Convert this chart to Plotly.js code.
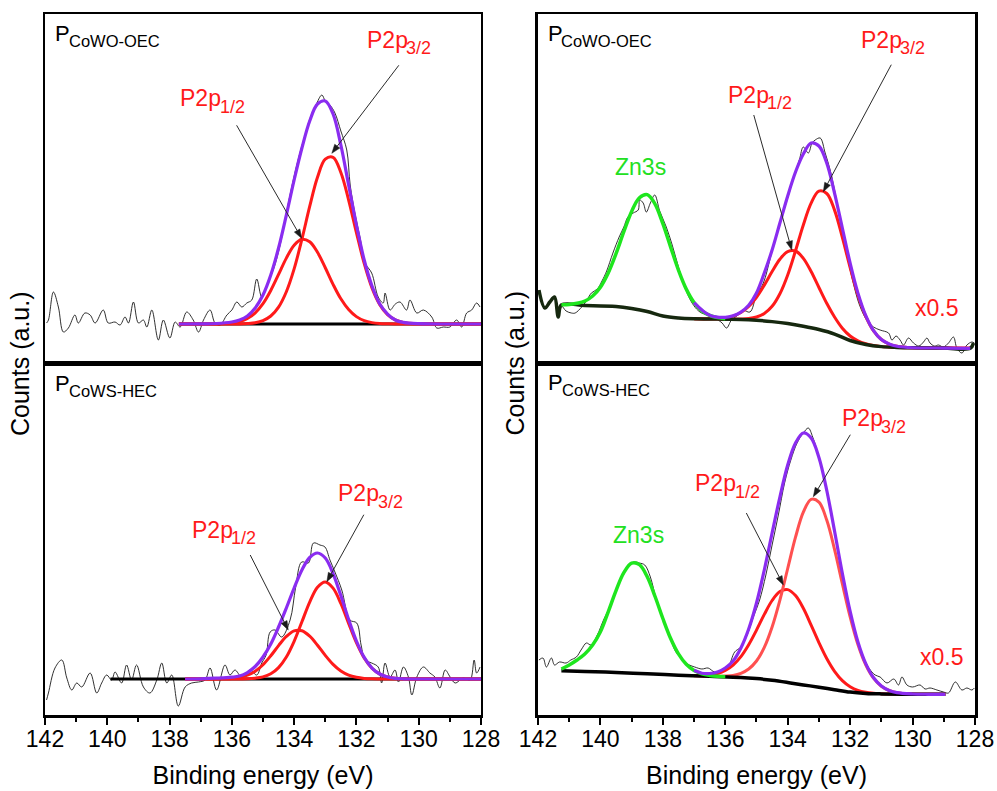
<!DOCTYPE html>
<html><head><meta charset="utf-8">
<script src="https://cdn.plot.ly/plotly-3.0.1.min.js"></script>
<style>body{margin:0;background:#fff}</style>
</head><body><div id="chart" style="width:997px;height:791px"></div>
<script>
// ---------- Left-top: P CoWO-OEC (P 2p only) ----------
const LT_rawE = [141.95,141.89,141.73,141.57,141.41,141.25,141.04,140.93,140.72,140.55,140.39,140.13,139.97,139.75,139.59,139.43,139.32,139.16,139.0,138.84,138.73,138.57,138.36,138.2,137.99,137.82,137.66,137.45,137.24,137.07,136.91,136.70,136.54,136.38,136.16,136.0,135.84,135.68,135.52,135.36,135.2,135.04,134.85,134.65,134.45,134.25,134.05,133.85,133.65,133.45,133.3,133.11,133.0,132.85,132.69,132.5,132.31,132.2,132.05,131.88,131.72,131.51,131.3,131.14,131.08,130.92,130.75,130.6,130.39,130.28,130.06,129.85,129.58,129.42,129.21,129.0,128.78,128.62,128.46,128.30,128.14,128.03];
const LT_raw = [40,43,71,56,31,35,48,40,50,48,40,53,40,41,38,46,40,61,40,43,36,53,23,43,25,41,36,51,43,31,43,53,40,38,48,53,61,56,60,63,84,66,80,95,118,150,180,206,228,248,258,268,262,258,250,232,213,178,150,125,100,90,66,60,70,53,59,61,53,63,50,53,46,35,36,36,43,36,50,53,60,56];
const LT_fitE = [137.7,137.0,136.5,136.0,135.75,135.5,135.25,135.0,134.75,134.5,134.25,134.0,133.75,133.5,133.25,133.0,132.75,132.5,132.25,132.0,131.75,131.5,131.25,131.0,130.75,130.5,130.0,129.0,128.0];
const LT_p32 = [39,39,39,39,39.1,39.5,40.3,42.4,47.0,55.9,71.3,94.1,123.8,156.6,185.8,203.8,205.7,190.5,163.0,130.4,99.6,75.1,58.4,48.4,43.1,40.6,39.2,39,39];
const LT_p12 = [39,39,39,40.0,41.5,44.5,50.2,59.4,72.6,88.6,104.9,117.8,123.8,121.2,110.7,95.3,78.7,64.2,53.5,46.4,42.4,40.4,39.5,39.2,39,39,39,39,39];
const LT_env = [39,39.2,39.5,41,43,47,55,68,88,115,148,183,215,242,259,262,249,218,178,138,103,77,59,49,43,40.6,39.3,39,39];
const LT_baseE = [137.7,128.0];
const LT_base = [39,39];

// ---------- Left-bottom: P CoWS-HEC ----------
const LB_rawE = [141.95,141.89,141.68,141.46,141.30,141.14,140.98,140.82,140.55,140.34,140.18,140.02,139.86,139.75,139.54,139.38,139.22,139.06,138.84,138.63,138.41,138.25,138.09,137.93,137.72,137.50,137.29,137.07,136.86,136.70,136.49,136.22,136.06,135.90,135.68,135.42,135.20,135.04,134.90,134.77,134.61,134.40,134.13,133.95,133.76,133.54,133.38,133.17,133.01,132.85,132.69,132.47,132.21,131.99,131.85,131.72,131.51,131.30,131.19,131.08,130.92,130.76,130.65,130.49,130.33,130.22,130.06,129.85,129.64,129.48,129.32,129.15,128.99,128.83,128.57,128.35,128.22,128.14,128.03];
const LB_raw = [15,22,47,55,37,25,32,28,42,22,32,40,35,43,32,50,35,50,28,22,35,52,32,40,9,28,32,33,35,47,25,50,40,45,38,45,40,52,60,83,85,78,95,128,153,152,172,170,168,155,143,125,95,92,70,55,52,48,32,52,38,45,33,48,38,20,38,48,42,38,27,45,38,32,37,35,55,42,48];
const LB_fitE = [137.5,137.0,136.5,136.0,135.75,135.5,135.25,135.0,134.75,134.5,134.25,134.0,133.75,133.5,133.25,133.0,132.75,132.5,132.25,132.0,131.75,131.5,131.25,131.0,130.75,130.5,130.0,129.0,128.0];
const LB_p32 = [36,36,36,36,36.1,36.2,36.8,38.1,41.2,47.4,58.0,73.7,93.2,112.9,127.8,133.0,126.9,111.5,91.6,72.3,57.0,46.8,40.9,38.0,36.7,36.2,36,36,36];
const LB_p12 = [36,36,36.1,36.6,37.6,39.8,43.8,50.3,59.2,69.4,78.6,84.2,84.3,78.9,69.8,59.6,50.6,44.0,39.9,37.7,36.6,36.2,36.1,36,36,36,36,36,36];
const LB_env = [36,36.2,36.8,37.8,39,42.5,48.5,58,71,88,107,127,145,157.5,162,157,141.5,119.5,95.5,74.0,57.6,47.0,41.0,38.0,36.7,36.2,36,36,36];
const LB_baseE = [139.9,128.0];
const LB_base = [36,36];

// ---------- Right-top: P CoWO-OEC with Zn3s (x0.5) ----------
const RT_rawE = [141.97,141.78,141.62,141.47,141.35,141.25,141.1,140.93,140.81,140.6,140.45,140.29,140.1,139.95,139.8,139.6,139.4,139.25,139.12,138.95,138.79,138.74,138.63,138.53,138.4,138.26,138.1,137.89,137.7,137.5,137.3,137.1,136.92,136.76,136.55,136.40,136.23,136.1,135.96,135.80,135.59,135.45,135.21,135.0,134.78,134.55,134.3,134.05,133.8,133.62,133.50,133.34,133.22,133.12,132.96,132.80,132.64,132.48,132.3,132.1,131.9,131.7,131.47,131.25,131.04,130.77,130.66,130.53,130.40,130.29,130.13,129.97,129.8,129.65,129.54,129.44,129.3,129.17,129.01,128.85,128.69,128.58,128.42,128.26,128.10,128.02];
const RT_raw = [73,55,61,66,46,57,52,50,50,56,62,70,74,82,92,110,126,136,146,150,153,163,160,151,160,168,152,136,118,96,76,62,54,50,48,46,43,40,35,43,48,53,51,68,80,106,135,160,186,204,216,210,220,223,225,210,193,170,140,108,80,58,43,36,33,30,23,27,23,18,25,20,17,21,25,20,17,18,16,20,26,15,10,18,21,20];
const RT_baseE = [141.97,141.78,141.62,141.47,141.35,141.25,140.5,139.5,139.0,138.5,138.0,137.5,137.0,136.5,136.0,135.5,135.0,134.5,134.0,133.5,133.0,132.5,132.0,131.5,131.0,130.5,130.0,129.0,128.15,128.05];
const RT_base = [73,55,61,66,46,58,57.5,56.5,54.5,51.5,47,45,44.2,44,43.8,43.6,42.8,41.4,39.5,36.8,33.5,29,22.5,18.5,16.4,15.6,15.2,15,14.7,20];
const RT_fitE = [137.0,136.5,136.0,135.75,135.5,135.25,135.0,134.75,134.5,134.25,134.0,133.75,133.5,133.25,133.0,132.75,132.5,132.25,132.0,131.75,131.5,131.25,131.0,130.75,130.5,130.0,129.0,128.15];
const RT_p32 = [44.2,44.0,43.8,43.8,44.0,44.5,46.0,49.5,56.7,69.3,88.1,112.2,138.0,159.9,171.8,169.5,152.9,125.7,95.4,67.9,46.6,32.1,23.5,19.0,16.8,15.3,15,14.7];
const RT_p12 = [44.2,44.2,45.1,46.9,50.5,56.5,65.7,77.9,91.5,103.8,111.5,112.0,104.7,91.5,75.5,59.7,46.0,34.8,27.0,22.2,19.3,17.5,16.4,15.9,15.6,15.2,15,14.7];
const RT_env = [60.5,47.8,45.6,47.2,50.9,57.7,70,90,113,140,167,191,209,220,217,200,170,135,99.9,69.9,47.4,32.4,23.5,19.0,16.8,15.3,15,14.7];
const RT_znE = [141.25,141.0,140.5,140.25,140.0,139.75,139.5,139.25,139.0,138.75,138.5,138.25,138.0,137.75,137.5,137.25,137.0,136.75,136.5,136.25,136.0];
const RT_zn = [58.2,58.5,61.9,67.0,75.9,90.1,109.4,131.3,151.6,165.3,168.4,159.0,139.3,115.9,92.9,73.9,60.5,52.2,47.6,45.4,44.3];

// ---------- Right-bottom: P CoWS-HEC with Zn3s (x0.5) ----------
const RB_rawE = [141.97,141.84,141.73,141.57,141.47,141.31,141.1,140.95,140.77,140.6,140.45,140.3,140.1,139.9,139.7,139.5,139.3,139.1,138.9,138.75,138.58,138.4,138.2,138.0,137.8,137.6,137.45,137.3,137.15,136.98,136.75,136.55,136.34,136.1,135.91,135.7,135.5,135.3,135.1,134.9,134.7,134.5,134.3,134.1,133.9,133.7,133.5,133.34,133.2,133.0,132.8,132.6,132.4,132.2,132.0,131.8,131.6,131.4,131.2,131.04,130.82,130.6,130.45,130.34,130.18,130.0,129.76,129.6,129.44,129.22,129.01,128.85,128.63,128.42,128.26,128.10,128.02];
const RB_raw = [55,57,48,57,50,53,52,55,58,66,72,70,80,95,108,124,140,150,153,152,150,138,114,96,80,64,58,53,50,48,46,47,43,45,48,63,68,80,98,115,140,170,200,232,255,272,282,287,278,258,230,200,165,132,104,78,60,47,40,38,32,36,30,38,30,28,30,26,27,25,23,22,33,25,27,25,27];
const RB_baseE = [141.25,140.5,139.5,138.5,137.5,136.5,135.5,135.0,134.5,134.0,133.5,133.0,132.5,132.0,131.5,131.0,130.0,128.95];
const RB_base = [44.3,43.6,42.5,41.2,39.8,38.7,37.6,36.4,34.7,32.5,30.1,27.8,25.3,22.9,21.6,21.1,20.8,20.7];
const RB_fitE = [137.0,136.75,136.5,136.25,136.0,135.75,135.5,135.25,135.0,134.75,134.5,134.25,134.0,133.75,133.5,133.25,133.0,132.75,132.5,132.25,132.0,131.75,131.5,131.25,131.0,130.75,130.5,130.0,129.5,128.95];
const RB_p32 = [39.2,38.9,38.8,38.6,38.9,39.6,41.7,46.0,54.0,67.6,88.0,114.9,146.5,177.8,202.8,215.6,212.9,194.9,165.6,131.3,98.2,70.5,50.2,36.8,28.8,24.5,22.3,21.0,20.7,20.7];
const RB_p12 = [39.4,39.5,40.1,41.5,44.5,49.9,58.4,70.3,84.9,100.6,114.5,123.5,125.4,119.4,106.7,89.9,72.4,56.5,43.7,34.4,28.3,24.6,22.7,21.7,21.3,21.0,20.9,20.8,20.7,20.7];
const RB_env = [44.7,41.8,41.5,43,47,54,67,86,112,145,182,218,250,272,282,277,257.5,224.8,184.0,141.7,103.6,73.0,51.3,37.2,29.0,24.5,22.3,21.0,20.7,20.7];
const RB_znE = [141.25,141.0,140.75,140.5,140.25,140.0,139.75,139.5,139.25,139.0,138.75,138.5,138.25,138.0,137.75,137.5,137.25,137.0,136.75,136.5,136.25,136.0];
const RB_zn = [46,50,55,61,70,83.2,103.2,124.4,142.3,151.9,150.4,138.2,118.5,96.5,76.5,61.1,50.7,44.5,41.2,39.6,38.7,38.3];

// ---------- tick labels ----------
const xTickVals = [142,140,138,136,134,132,130,128];
const xTickText = ['142','140','138','136','134','132','130','128'];

const FONT = 'Liberation Sans, Arial, Helvetica, sans-serif';
const RED = '#ff1a1a', PURPLE = '#8a2cf0', GREEN = '#1ee61e', GREEN_TXT = '#22e022', BASE_DARK = '#16280f';

function ln(x, y, xa, ya, color, width) {
  return {x: x, y: y, xaxis: xa, yaxis: ya, type: 'scatter', mode: 'lines',
    line: {color: color, width: width, shape: 'spline', smoothing: 1},
    hoverinfo: 'skip', showlegend: false};
}

const traces = [
  ln(LB_rawE, LB_raw, 'x', 'y', '#1a1a1a', 0.9),
  ln(LB_baseE, LB_base, 'x', 'y', 'black', 3),
  ln(LB_fitE, LB_p12, 'x', 'y', RED, 3),
  ln(LB_fitE, LB_p32, 'x', 'y', RED, 3),
  ln(LB_fitE, LB_env, 'x', 'y', PURPLE, 3.2),
  ln(LT_rawE, LT_raw, 'x2', 'y2', '#1a1a1a', 0.9),
  ln(LT_baseE, LT_base, 'x2', 'y2', 'black', 3),
  ln(LT_fitE, LT_p12, 'x2', 'y2', RED, 3),
  ln(LT_fitE, LT_p32, 'x2', 'y2', RED, 3),
  ln(LT_fitE, LT_env, 'x2', 'y2', PURPLE, 3.2),
  ln(RB_rawE, RB_raw, 'x3', 'y3', '#1a1a1a', 0.9),
  ln(RB_fitE, RB_p12, 'x3', 'y3', RED, 3),
  ln(RB_fitE, RB_p32, 'x3', 'y3', '#ff5050', 3),
  ln(RB_baseE, RB_base, 'x3', 'y3', 'black', 3.5),
  ln(RB_znE, RB_zn, 'x3', 'y3', GREEN, 3.5),
  ln(RB_fitE, RB_env, 'x3', 'y3', PURPLE, 3.2),
  ln(RT_rawE, RT_raw, 'x4', 'y4', '#1a1a1a', 0.9),
  ln(RT_fitE, RT_p12, 'x4', 'y4', RED, 3),
  ln(RT_fitE, RT_p32, 'x4', 'y4', RED, 3),
  ln(RT_baseE, RT_base, 'x4', 'y4', BASE_DARK, 3.5),
  ln(RT_znE, RT_zn, 'x4', 'y4', GREEN, 3.5),
  ln(RT_fitE, RT_env, 'x4', 'y4', PURPLE, 3.2)
];

const LEFT_DOM = [0, 0.4688], RIGHT_DOM = [0.5301, 1];
const BOT_DOM = [0, 0.5021], TOP_DOM = [0.5021, 1];

function xAxis(dom, anchor, bottom) {
  const a = {domain: dom, anchor: anchor, range: [142, 128], showline: true, linecolor: 'black',
    linewidth: 2.5, mirror: true, showgrid: false, zeroline: false, fixedrange: true};
  if (bottom) {
    Object.assign(a, {ticks: 'outside', ticklen: 7, tickwidth: 2, tickcolor: 'black',
      tickmode: 'array', tickvals: xTickVals, ticktext: xTickText, ticklabelstandoff: -5,
      tickfont: {family: FONT, size: 23, color: 'black'},
      minor: {ticks: 'outside', ticklen: 4, tickwidth: 2, tickcolor: 'black', dtick: 1, tick0: 128, showgrid: false},
      title: {text: 'Binding energy (eV)', font: {family: FONT, size: 25, color: 'black'}, standoff: 16}});
  } else {
    Object.assign(a, {ticks: '', showticklabels: false});
  }
  return a;
}
function yAxis(dom, anchor, top) {
  return {domain: dom, anchor: anchor, range: [0, top], showline: true, linecolor: 'black',
    linewidth: 2.5, mirror: true, showgrid: false, zeroline: false, ticks: '',
    showticklabels: false, fixedrange: true};
}

function lbl(xr, yr, x, y, text, color, size, anchor) {
  return {xref: xr, yref: yr, x: x, y: y, text: text, showarrow: false, borderpad: 0,
    xanchor: anchor || 'center', yanchor: 'middle',
    font: {family: FONT, size: size, color: color}};
}
// label with a subscript drawn as two texts meeting near x
function subLbl(xr, yr, xMain, xSub, yMain, ySub, main, sub, color, sizeMain, sizeSub) {
  return [lbl(xr, yr, xMain, yMain, main, color, sizeMain, 'right'),
          lbl(xr, yr, xSub, ySub, sub, color, sizeSub, 'left')];
}

// arrows (line + filled head) as layout shapes; head in data units, tail offset in px
const PX_PER_EV = {x: 436 / 14, x2: 436 / 14, x3: 437 / 14, x4: 437 / 14};
function arrowShapes(xr, yr, E, h, axPx, ayPx) {
  const k = PX_PER_EV[xr];
  const tailE = E - axPx / k, tailH = h - ayPx;
  const dx = -axPx, dy = -ayPx, L = Math.hypot(dx, dy);
  const ux = dx / L, uy = dy / L, nx = -uy, ny = ux;
  const HL = 9, HW = 3.2;
  const toData = (px, py) => [E - px / k, h - py];
  const b = [-ux * HL, -uy * HL];
  const p1 = toData(b[0] + nx * HW, b[1] + ny * HW);
  const p2 = toData(b[0] - nx * HW, b[1] - ny * HW);
  const bc = toData(b[0], b[1]);
  return [
    {type: 'line', xref: xr, yref: yr, x0: tailE, y0: tailH, x1: bc[0], y1: bc[1],
      line: {color: '#2a2a2a', width: 1}},
    {type: 'path', xref: xr, yref: yr,
      path: 'M' + E + ',' + h + ' L' + p1[0] + ',' + p1[1] + ' L' + p2[0] + ',' + p2[1] + ' Z',
      fillcolor: '#1a1a1a', line: {color: '#1a1a1a', width: 0.5}}
  ];
}

const annotations = [].concat(
  // panel labels
  subLbl('x2', 'y2', 141.15, 141.27, 330, 322, 'P', 'CoWO-OEC', 'black', 22, 16.5),
  subLbl('x', 'y', 141.15, 141.27, 331.7, 324.2, 'P', 'CoWS-HEC', 'black', 22, 16.5),
  subLbl('x4', 'y4', 141.16, 141.28, 329.7, 322.2, 'P', 'CoWO-OEC', 'black', 22, 16.5),
  subLbl('x3', 'y3', 141.16, 141.26, 332.5, 325, 'P', 'CoWS-HEC', 'black', 22, 16.5),
  // left-top
  subLbl('x2', 'y2', 130.32, 130.43, 323, 314.7, 'P2p', '3/2', RED, 23, 18),
  subLbl('x2', 'y2', 136.31, 136.42, 265.5, 256.3, 'P2p', '1/2', RED, 23, 18),
  // left-bottom
  subLbl('x', 'y', 131.23, 131.34, 221.7, 213.3, 'P2p', '3/2', RED, 23, 18),
  subLbl('x', 'y', 135.94, 136.05, 184.7, 176.7, 'P2p', '1/2', RED, 23, 18),
  // right-top
  subLbl('x4', 'y4', 130.31, 130.42, 323.5, 314.7, 'P2p', '3/2', RED, 23, 18),
  subLbl('x4', 'y4', 134.58, 134.69, 268.3, 259.7, 'P2p', '1/2', RED, 23, 18),
  [lbl('x4', 'y4', 138.71, 195.8, 'Zn3s', GREEN_TXT, 23),
   lbl('x4', 'y4', 129.22, 54.7, 'x0.5', RED, 23)],
  // right-bottom
  subLbl('x3', 'y3', 130.92, 131.03, 297.5, 288.3, 'P2p', '3/2', RED, 23, 18),
  subLbl('x3', 'y3', 135.62, 135.73, 232.2, 223.3, 'P2p', '1/2', RED, 23, 18),
  [lbl('x3', 'y3', 138.79, 180, 'Zn3s', GREEN_TXT, 23),
   lbl('x3', 'y3', 129.06, 58.3, 'x0.5', RED, 23)],
  // y titles
  [{xref: 'paper', yref: 'paper', x: -0.0269, y: 0.5021, text: 'Counts (a.u.)', textangle: -90,
    showarrow: false, xanchor: 'center', yanchor: 'middle', font: {family: FONT, size: 25, color: 'black'}},
   {xref: 'paper', yref: 'paper', x: 0.5059, y: 0.5021, text: 'Counts (a.u.)', textangle: -90,
    showarrow: false, xanchor: 'center', yanchor: 'middle', font: {family: FONT, size: 25, color: 'black'}}]
);

const shapes = [].concat(
  arrowShapes('x2', 'y2', 133.76, 124.7, -65, -113),
  arrowShapes('x2', 'y2', 132.79, 209.7, 67, -88),
  arrowShapes('x', 'y', 132.95, 133.3, 37, -67),
  arrowShapes('x', 'y', 134.19, 85, -38, -75),
  arrowShapes('x4', 'y4', 133.87, 113, -38, -135),
  arrowShapes('x4', 'y4', 132.86, 171.3, 68, -127),
  arrowShapes('x3', 'y3', 133.18, 218.3, 37, -62),
  arrowShapes('x3', 'y3', 134.14, 130, -37, -72)
);

const layout = {
  width: 997, height: 791,
  margin: {l: 45, r: 22, t: 14, b: 76},
  paper_bgcolor: 'white', plot_bgcolor: 'white',
  showlegend: false,
  font: {family: FONT, color: 'black'},
  xaxis: xAxis(LEFT_DOM, 'y', true),
  yaxis: yAxis(BOT_DOM, 'x', 352),
  xaxis2: xAxis(LEFT_DOM, 'y2', false),
  yaxis2: yAxis(TOP_DOM, 'x2', 349),
  xaxis3: xAxis(RIGHT_DOM, 'y3', true),
  yaxis3: yAxis(BOT_DOM, 'x3', 352),
  xaxis4: xAxis(RIGHT_DOM, 'y4', false),
  yaxis4: yAxis(TOP_DOM, 'x4', 349),
  annotations: annotations,
  shapes: shapes
};

Plotly.newPlot('chart', traces, layout, {staticPlot: true, displayModeBar: false});
</script>
</body></html>
